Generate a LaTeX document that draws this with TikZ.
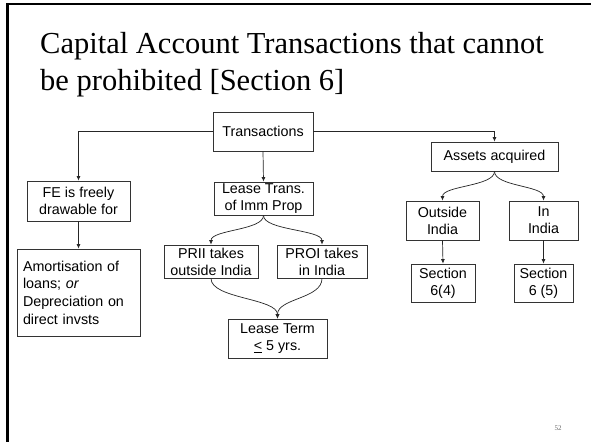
\documentclass[tikz,border=0pt]{standalone}
\usepackage{fontspec}
\setmainfont{Liberation Serif}
\newfontfamily\boxfont{Liberation Sans}
\usetikzlibrary{arrows.meta}
\begin{document}
\begin{tikzpicture}[x=1pt,y=-1pt,
  box/.style={draw=black!80, line width=0.8pt, inner sep=0pt, align=center,
    font=\boxfont\fontsize{14.3}{17}\selectfont},
  link/.style={draw=black!85, line width=0.7pt, -{Latex[length=4.5pt,width=4pt]}},
  titletext/.style={anchor=base west, inner sep=0pt, font=\fontsize{30.5}{36}\selectfont}
]
\useasboundingbox (0,0) rectangle (591,442);
\fill[white] (0,0) rectangle (591,442);

% slide frame
\draw[line width=2pt] (6,4) -- (591,4);
\draw[line width=3pt] (7.5,3) -- (7.5,442);

% title
\node[titletext] (t1) at (40,53) {Capital Account Transactions that cannot};
\node[titletext] (t2) at (40,90) {be prohibited [Section 6]};

% boxes
\node[box, minimum width=100pt, minimum height=39pt] (trans) at (263,131.5) {Transactions};
\node[box, minimum width=103pt, minimum height=40pt] (fe) at (78.5,201) {FE is freely\\drawable for};
\node[box, minimum width=123pt, minimum height=87pt, text width=111pt, align=left,
  font=\boxfont\fontsize{14.3}{17.7}\selectfont] (amort) at (78.5,292.5)
  {Amortisation of\\loans; \textit{or}\\Depreciation on\\direct invsts};
\node[box, minimum width=99pt, minimum height=33pt] (lease) at (263.5,198.5) {Lease Trans.\\of Imm Prop};
\node[box, minimum width=94pt, minimum height=33pt] (prii) at (211,261.5) {PRII takes\\outside India};
\node[box, minimum width=90pt, minimum height=33pt] (proi) at (322,261.5) {PROI takes\\in India};
\node[box, minimum width=99pt, minimum height=39pt] (term) at (277.5,338.5) {Lease Term\\\underline{<} 5 yrs.};
\node[box, minimum width=127pt, minimum height=29pt] (assets) at (494.5,156.5) {Assets acquired};
\node[box, minimum width=73pt, minimum height=39pt] (outside) at (442.5,220.5) {Outside\\India};
\node[box, minimum width=69pt, minimum height=39pt] (inindia) at (543.5,220.5) {In\\India};
\node[box, minimum width=64pt, minimum height=38pt] (sec4) at (443,283) {Section\\6(4)};
\node[box, minimum width=59pt, minimum height=38pt] (sec5) at (543.5,283) {Section\\6 (5)};

% page number
\node[inner sep=0pt, text=black!60, font=\fontsize{7}{8}\selectfont] (pg) at (558,428.5) {52};

% straight connectors
\draw[link] (trans.west) -| (fe.north);
\draw[link] (trans.east) -| (assets.north);
\draw[link] (trans.south) -- (lease.north);
\draw[link] (fe.south) -- (amort.north);
\draw[link] (outside.south) -- (sec4.north);
\draw[link] (inindia.south) -- (sec5.north);

% curved connectors
\draw[link] (lease.south) .. controls +(0,15) and +(0,-15) .. (prii.north);
\draw[link] (lease.south) .. controls +(0,15) and +(0,-15) .. (proi.north);
\draw[link] (prii.south) .. controls +(0,20.5) and +(0,-20.5) .. (term.north);
\draw[link] (proi.south) .. controls +(0,20.5) and +(0,-20.5) .. (term.north);
\draw[link] (assets.south) .. controls +(0,15) and +(0,-15) .. (outside.north);
\draw[link] (assets.south) .. controls +(0,15) and +(0,-15) .. (inindia.north);
\end{tikzpicture}
\end{document}
